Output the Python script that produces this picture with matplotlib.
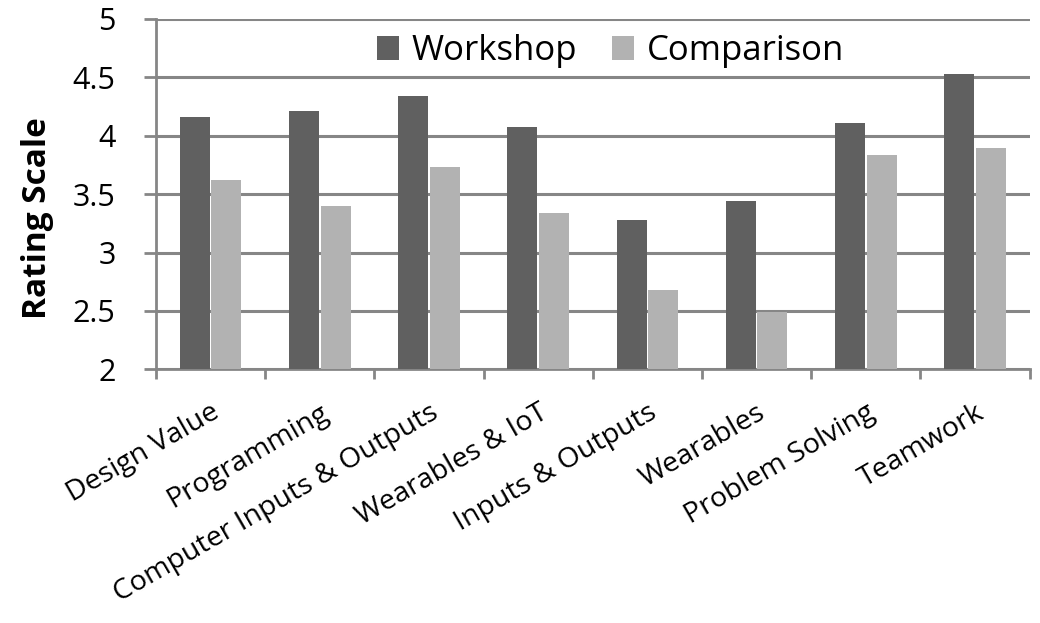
import matplotlib
matplotlib.use("Agg")
import matplotlib.pyplot as plt
import numpy as np

categories = ["Design Value", "Programming", "Computer Inputs & Outputs",
              "Wearables & IoT", "Inputs & Outputs", "Wearables",
              "Problem Solving", "Teamwork"]
workshop = [4.16, 4.21, 4.34, 4.07, 3.28, 3.44, 4.11, 4.53]
comparison = [3.62, 3.40, 3.73, 3.34, 2.68, 2.49, 3.83, 3.89]
yticks = [2, 2.5, 3, 3.5, 4, 4.5, 5]
ytick_labels = ["2", "2.5", "3", "3.5", "4", "4.5", "5"]

plt.rcParams['font.family'] = ['Open Sans', 'DejaVu Sans']

fig = plt.figure(figsize=(10.4, 6.23), dpi=100)
ax = fig.add_axes([0.15, 0.407, 0.84, 0.563])

x = np.arange(len(categories))
w = 0.275
ax.bar(x - 0.145, workshop, w, color="#606060", label="Workshop", zorder=3)
ax.bar(x + 0.145, comparison, w, color="#b2b2b2", label="Comparison", zorder=3)

ax.set_ylim(2, 5)
ax.set_xlim(-0.5, len(categories) - 0.5)
ax.set_yticks(yticks)
ax.set_yticklabels(ytick_labels, fontsize=22)
ax.yaxis.grid(True, color="#868686", linewidth=2.2, zorder=0)
ax.set_axisbelow(True)

ax.set_xticks(np.arange(len(categories) + 1) - 0.5, minor=False)
ax.set_xticklabels([])
ax.set_xticks(x, minor=True)
ax.set_xticklabels(categories, minor=True, rotation=30, ha="right",
                   rotation_mode="anchor", fontsize=20.5)
ax.tick_params(axis="x", which="minor", length=0, pad=21)
ax.tick_params(axis="x", which="major", length=7, width=2, color="#868686", direction="out")
ax.tick_params(axis="y", length=9, width=2, color="#868686", pad=20)

for s in ["top", "right"]:
    ax.spines[s].set_visible(False)
for s in ["left", "bottom"]:
    ax.spines[s].set_color("#868686")
    ax.spines[s].set_linewidth(2)

ax.set_ylabel("Rating Scale", fontsize=24, fontweight="bold")
ax.yaxis.set_label_coords(-0.117, 0.43)

ax.legend(loc="upper center", bbox_to_anchor=(0.52, 1.045), ncol=2, frameon=False,
          fontsize=25, handlelength=0.65, handleheight=0.65, handletextpad=0.35,
          columnspacing=1.0)

fig.savefig("out.png", dpi=100)
